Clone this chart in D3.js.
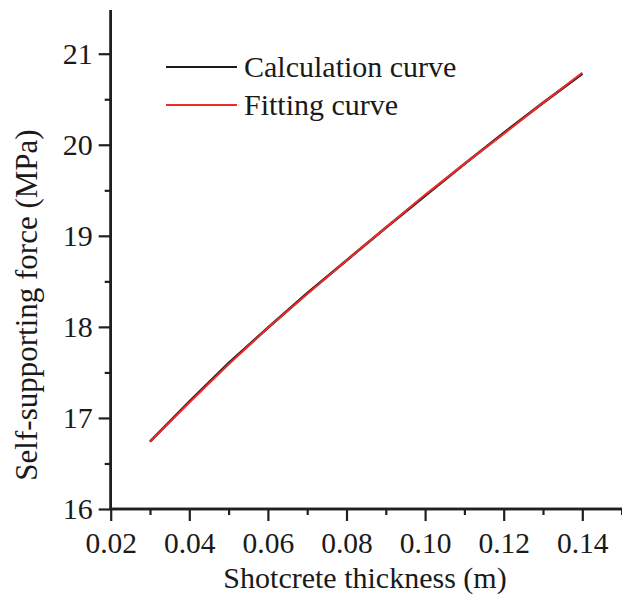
<!DOCTYPE html>
<html><head><meta charset="utf-8">
<script src="https://cdn.jsdelivr.net/npm/d3@7"></script>
</head><body style="margin:0"><svg id="c" width="622" height="601" style="display:block"></svg>
<script>
const thickness = [0.03,0.04,0.05,0.06,0.07,0.08,0.09,0.10,0.11,0.12,0.13,0.14];
const calcValues = [16.74,17.18,17.60,17.99,18.37,18.73,19.09,19.44,19.79,20.13,20.46,20.78];
const fitValues  = [16.74,17.17,17.59,17.99,18.36,18.73,19.09,19.45,19.79,20.12,20.46,20.79];
const xTicks = [0.02,0.04,0.06,0.08,0.10,0.12,0.14];
const xMinor = [0.03,0.05,0.07,0.09,0.11,0.13,0.15];
const yTicks = [16,17,18,19,20,21];
const yMinor = [16.5,17.5,18.5,19.5,20.5];
const seriesNames = ["Calculation curve","Fitting curve"];
const seriesColors = ["#1a1a1a","#ee2a2a"];

const FONT = "'Times New Roman'";
const TXT = "#1a1a1a";
const svg = d3.select("#c").attr("font-family", FONT);
const x = d3.scaleLinear().domain([0.02,0.15]).range([110.7,621.6]);
const y = d3.scaleLinear().domain([16,21.48]).range([509,10]);
const axisColor = "#1f1f1f";

// lines
const line = d3.line().x((d,i)=>x(thickness[i])).y(d=>y(d));
[calcValues, fitValues].forEach((vals,k)=>{
  svg.append("path").attr("d", line(vals)).attr("fill","none")
    .attr("stroke", seriesColors[k]).attr("stroke-width", k===0?2.6:2);
});

// x axis
const gx = svg.append("g").attr("transform","translate(0,509)");
gx.call(d3.axisBottom(x).tickValues(xTicks).tickFormat(d3.format(".2f")).tickSize(12).tickPadding(11));
gx.append("g").call(d3.axisBottom(x).tickValues(xMinor).tickFormat("").tickSize(6));
gx.selectAll(".domain").attr("stroke",axisColor).attr("stroke-width",2.5).attr("d","M"+x.range()[0]+",0H622");
gx.selectAll(".tick line").attr("stroke",axisColor).attr("stroke-width",2.2);
gx.attr("font-family",FONT);
gx.selectAll("g").attr("font-family",FONT);
gx.selectAll(".tick text").attr("font-size",29.5).attr("font-family",FONT).attr("fill",TXT);

// y axis
const gy = svg.append("g").attr("transform","translate(110.7,0)");
gy.call(d3.axisLeft(y).tickValues(yTicks).tickFormat(d3.format("d")).tickSize(12).tickPadding(6));
gy.append("g").call(d3.axisLeft(y).tickValues(yMinor).tickFormat("").tickSize(6));
gy.selectAll(".domain").attr("stroke",axisColor).attr("stroke-width",2.5).attr("d","M0,10V509");
gy.selectAll(".tick line").attr("stroke",axisColor).attr("stroke-width",2.2);
gy.attr("font-family",FONT);
gy.selectAll("g").attr("font-family",FONT);
gy.selectAll(".tick text").attr("font-size",30).attr("font-family",FONT).attr("fill",TXT);

// axis titles
svg.append("text").attr("x",365).attr("y",588).attr("text-anchor","middle")
  .attr("font-family",FONT).attr("font-size",30).attr("fill",TXT).text("Shotcrete thickness (m)");
svg.append("text").attr("transform","translate(37,305) rotate(-90)").attr("text-anchor","middle")
  .attr("font-family",FONT).attr("font-size",31).attr("fill",TXT).text("Self-supporting force (MPa)");

// legend
seriesNames.forEach((n,i)=>{
  const ly = 67 + i*38;
  svg.append("line").attr("x1",166).attr("x2",237).attr("y1",ly).attr("y2",ly)
    .attr("stroke",seriesColors[i]).attr("stroke-width",2.2);
  svg.append("text").attr("x",244).attr("y",ly+10).attr("font-family",FONT).attr("font-size",30).attr("fill",TXT).text(n);
});
</script></body></html>
